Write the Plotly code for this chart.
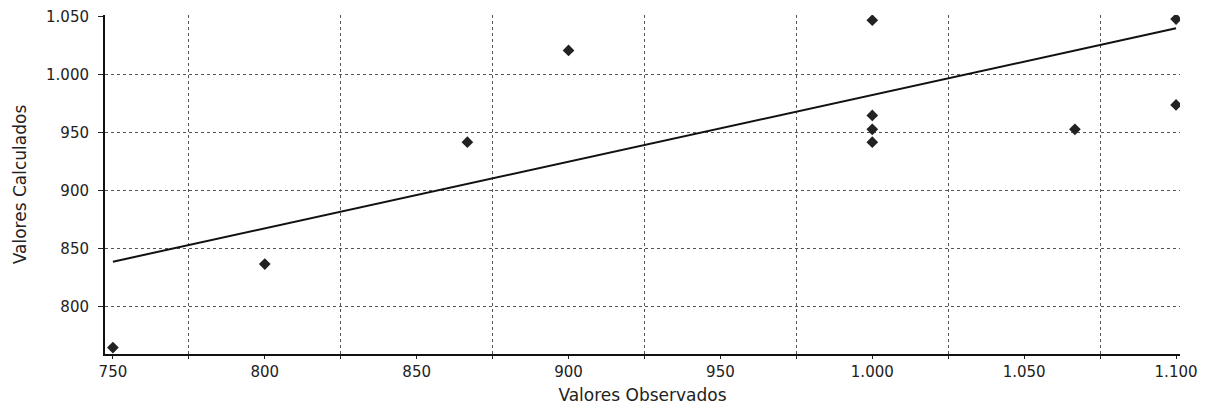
import plotly.graph_objects as go

# observed vs calculated values
obs = [750, 800, 866.7, 900, 1000, 1000, 1000, 1000, 1066.7, 1100, 1100]
calc = [765, 837, 942, 1021, 1047, 965, 953, 942, 953, 1048, 974]

# fitted line endpoints as drawn in the chart
fit_x = [750, 1100]
fit_y = [839, 1040]

x_ticks = [750, 800, 850, 900, 950, 1000, 1050, 1100]
x_labels = ["750", "800", "850", "900", "950", "1.000", "1.050", "1.100"]
x_grid = [775, 825, 875, 925, 975, 1025, 1075]
y_ticks = [800, 850, 900, 950, 1000, 1050]
y_labels = ["800", "850", "900", "950", "1.000", "1.050"]
y_grid = [800, 850, 900, 950, 1000]

fig = go.Figure()
fig.add_trace(go.Scatter(x=fit_x, y=fit_y, mode="lines",
                         line=dict(color="#111111", width=2), showlegend=False))
fig.add_trace(go.Scatter(x=obs, y=calc, mode="markers",
                         marker=dict(symbol="diamond", size=9, color="#222222"),
                         showlegend=False))

# page body has an 8px margin, so the figure is slightly smaller
fig.update_layout(
    width=1205, height=399,
    margin=dict(l=97, r=33, t=7, b=53),
    paper_bgcolor="white", plot_bgcolor="white",
    font=dict(family="DejaVu Sans", size=15, color="#222222"),
    xaxis=dict(
        range=[747.4, 1101.3], automargin=False,
        tickvals=x_ticks, ticktext=x_labels,
        ticks="outside", ticklen=3, tickcolor="#222222",
        showgrid=False, zeroline=False,
        showline=True, linecolor="#111111", linewidth=2,
        minor=dict(tickvals=x_grid, showgrid=True, gridcolor="#555555",
                   griddash="dot", gridwidth=1, ticks="outside", ticklen=3),
        title=dict(text="Valores Observados", font=dict(size=17), standoff=9),
    ),
    yaxis=dict(
        range=[759.5, 1051.5], automargin=False,
        tickvals=y_ticks, ticktext=y_labels,
        ticks="outside", ticklen=5, tickcolor="#222222",
        ticklabelstandoff=6, ticklabeloverflow="allow",
        showgrid=False, zeroline=False,
        showline=True, linecolor="#111111", linewidth=2,
        minor=dict(tickvals=y_grid, showgrid=True, gridcolor="#555555",
                   griddash="dot", gridwidth=1, ticks=""),
        title=dict(text="Valores Calculados", font=dict(size=17), standoff=15),
    ),
)

fig.write_html("out.html")
